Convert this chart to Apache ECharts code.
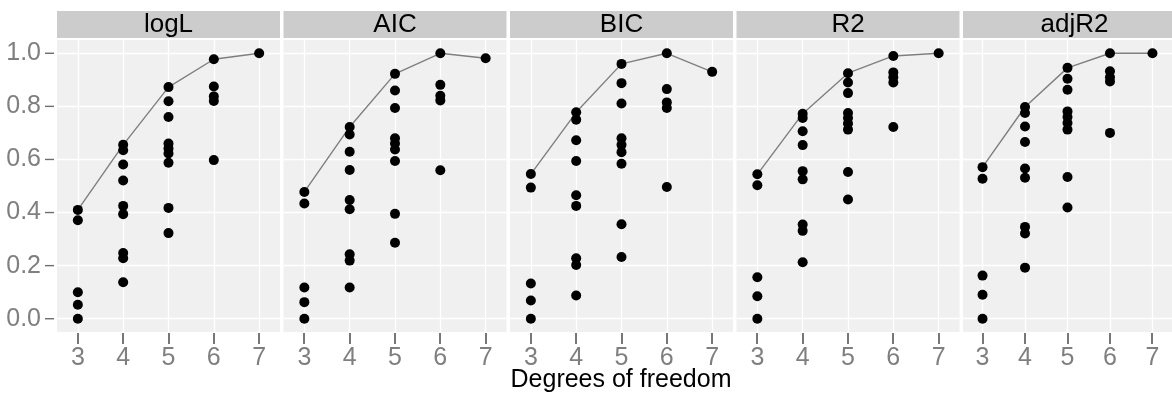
<!DOCTYPE html>
<html>
<head>
<meta charset="utf-8">
<script src="https://cdn.jsdelivr.net/npm/echarts@6/dist/echarts.min.js"></script>
<style>
html,body{margin:0;padding:0;background:#fff;}
#chart{width:1172px;height:393px;}
</style>
</head>
<body>
<div id="chart"></div>
<script>
// ---- data ----
const facetNames = ['logL', 'AIC', 'BIC', 'R2', 'adjR2'];
const xTicks = [3, 4, 5, 6, 7];
const yTicks = [0, 0.2, 0.4, 0.6, 0.8, 1.0];
// degrees of freedom of every model (shared by all facets)
const pointDf = [3,3,3,3,3, 4,4,4,4,4,4,4,4,4, 5,5,5,5,5,5,5,5,5, 6,6,6,6,6, 7];
const logL = [0.41,0.371,0.10,0.0525,0.0,
  0.655,0.635,0.581,0.521,0.425,0.394,0.2475,0.2275,0.1375,
  0.8725,0.819,0.76,0.66,0.641,0.6225,0.5875,0.4175,0.3225,
  0.9775,0.875,0.8375,0.82,0.5975,
  1.0];
const AIC = [0.4775,0.434,0.1175,0.0625,0.0,
  0.7225,0.694,0.629,0.56,0.4475,0.4125,0.2425,0.219,0.1175,
  0.9225,0.86,0.794,0.68,0.66,0.6375,0.594,0.395,0.286,
  1.0,0.881,0.84,0.8225,0.559,
  0.981];
const BIC = [0.545,0.494,0.1325,0.069,0.0,
  0.7775,0.75,0.6725,0.594,0.465,0.425,0.2275,0.2025,0.0875,
  0.96,0.8875,0.811,0.68,0.655,0.6275,0.584,0.356,0.2325,
  1.0,0.865,0.815,0.794,0.496,
  0.93];
const R2 = [0.544,0.5025,0.156,0.085,0.0,
  0.7725,0.756,0.706,0.654,0.556,0.525,0.355,0.331,0.2125,
  0.925,0.89,0.85,0.775,0.756,0.735,0.7125,0.5525,0.449,
  0.99,0.928,0.91,0.89,0.7225,
  1.0];
const adjR2 = [0.571,0.5275,0.1625,0.09,0.0,
  0.7975,0.775,0.724,0.666,0.566,0.531,0.346,0.321,0.1925,
  0.945,0.904,0.8625,0.781,0.76,0.7375,0.7125,0.534,0.419,
  1.0,0.9325,0.91,0.894,0.70,
  1.0];
const facetValues = [logL, AIC, BIC, R2, adjR2];
const xTitle = 'Degrees of freedom';

// ---- layout ----
const FONT = 'Liberation Sans, Arial, sans-serif';
const panelLefts = [57, 283.5, 510, 736.5, 963];
const panelW = 223, panelTop = 40, panelH = 292;
const stripTop = 11, stripH = 27;
const X_MIN = 2.54, X_MAX = 7.46, Y_MIN = -0.05, Y_MAX = 1.05;
const TICK_COLOR = '#6E6E6E';

const grids = [], xAxes = [], yAxes = [], series = [], graphics = [];
facetNames.forEach((name, i) => {
  grids.push({
    left: panelLefts[i], top: panelTop, width: panelW, height: panelH,
    show: true, backgroundColor: '#F0F0F0', borderWidth: 0,
    containLabel: false
  });
  xAxes.push({
    type: 'value', gridIndex: i, min: X_MIN, max: X_MAX, offset: 1,
    axisLine: { show: false },
    axisTick: { show: false, customValues: xTicks },
    axisLabel: { customValues: xTicks, color: '#7F7F7F', fontSize: 25, fontFamily: FONT, margin: 13 },
    splitLine: { show: true, lineStyle: { color: '#FFFFFF', width: 1.3 } }
  });
  yAxes.push({
    type: 'value', gridIndex: i, min: Y_MIN, max: Y_MAX, offset: 3,
    axisLine: { show: false },
    axisTick: { show: false, customValues: yTicks },
    axisLabel: { show: i === 0, customValues: yTicks, color: '#7F7F7F', fontSize: 25, fontFamily: FONT, margin: 13,
      formatter: v => v.toFixed(1) },
    splitLine: { show: true, lineStyle: { color: '#FFFFFF', width: 1.3 } }
  });
  const vals = facetValues[i];
  const pts = pointDf.map((d, k) => [d, vals[k]]);
  const best = xTicks.map(d => [d, Math.max(...vals.filter((v, k) => pointDf[k] === d))]);
  series.push({
    type: 'line', xAxisIndex: i, yAxisIndex: i, data: best,
    showSymbol: false, symbol: 'none', z: 2, silent: true,
    lineStyle: { color: '#7F7F7F', width: 1.4 }
  });
  series.push({
    type: 'scatter', xAxisIndex: i, yAxisIndex: i, data: pts,
    symbol: 'circle', symbolSize: 10, z: 3, clip: false,
    itemStyle: { color: '#000000', opacity: 1 }
  });
  // x-axis tick marks from the axis scale
  series.push({
    type: 'custom', xAxisIndex: i, yAxisIndex: i, clip: false, silent: true, z: 10,
    data: xTicks.map(v => [v, yTicks[2]]),
    renderItem: (params, api) => {
      const p = api.coord([api.value(0), Y_MIN]);
      const x = Math.round(p[0]);
      return { type: 'rect', shape: { x: x - 0.75, y: p[1] + 1, width: 1.5, height: 11 },
        style: { fill: TICK_COLOR } };
    }
  });
  if (i === 0) {
    series.push({
      type: 'custom', xAxisIndex: i, yAxisIndex: i, clip: false, silent: true, z: 10,
      data: yTicks.map(v => [xTicks[2], v]),
      renderItem: (params, api) => {
        const p = api.coord([X_MIN, api.value(1)]);
        return { type: 'line', shape: { x1: p[0] - 3, y1: p[1], x2: p[0] - 12, y2: p[1] },
          style: { stroke: TICK_COLOR, lineWidth: 1.4 } };
      }
    });
  }
  graphics.push({
    type: 'rect', left: panelLefts[i], top: stripTop,
    shape: { width: panelW, height: stripH },
    style: { fill: '#CCCCCC' }, z: 0
  });
  graphics.push({
    type: 'text', x: panelLefts[i] + panelW / 2, y: stripTop + stripH / 2 + 0.5,
    style: { text: name, fill: '#000000', font: '26px ' + FONT, textAlign: 'center', textVerticalAlign: 'middle' },
    z: 1
  });
});
graphics.push({
  type: 'text', x: 621, y: 380,
  style: { text: xTitle, fill: '#000000', font: '25px ' + FONT, textAlign: 'center', textVerticalAlign: 'middle' }
});

const chart = echarts.init(document.getElementById('chart'), null, { renderer: 'canvas' });
chart.setOption({
  animation: false,
  backgroundColor: '#FFFFFF',
  grid: grids, xAxis: xAxes, yAxis: yAxes, series: series,
  graphic: graphics
});

// backup x-axis tick marks, positioned through each panel's own axis scale
const tickEls = [];
facetNames.forEach((name, i) => {
  xTicks.forEach(v => {
    const p = chart.convertToPixel({ gridIndex: i }, [v, Y_MIN]);
    if (!p || !isFinite(p[0]) || !isFinite(p[1])) return;
    const x = Math.round(p[0]);
    tickEls.push({
      type: 'rect', z: 100, silent: true,
      shape: { x: x - 0.75, y: p[1] + 1, width: 1.5, height: 11 },
      style: { fill: TICK_COLOR }
    });
  });
});
if (tickEls.length) chart.setOption({ graphic: graphics.concat(tickEls) });
</script>
</body>
</html>
